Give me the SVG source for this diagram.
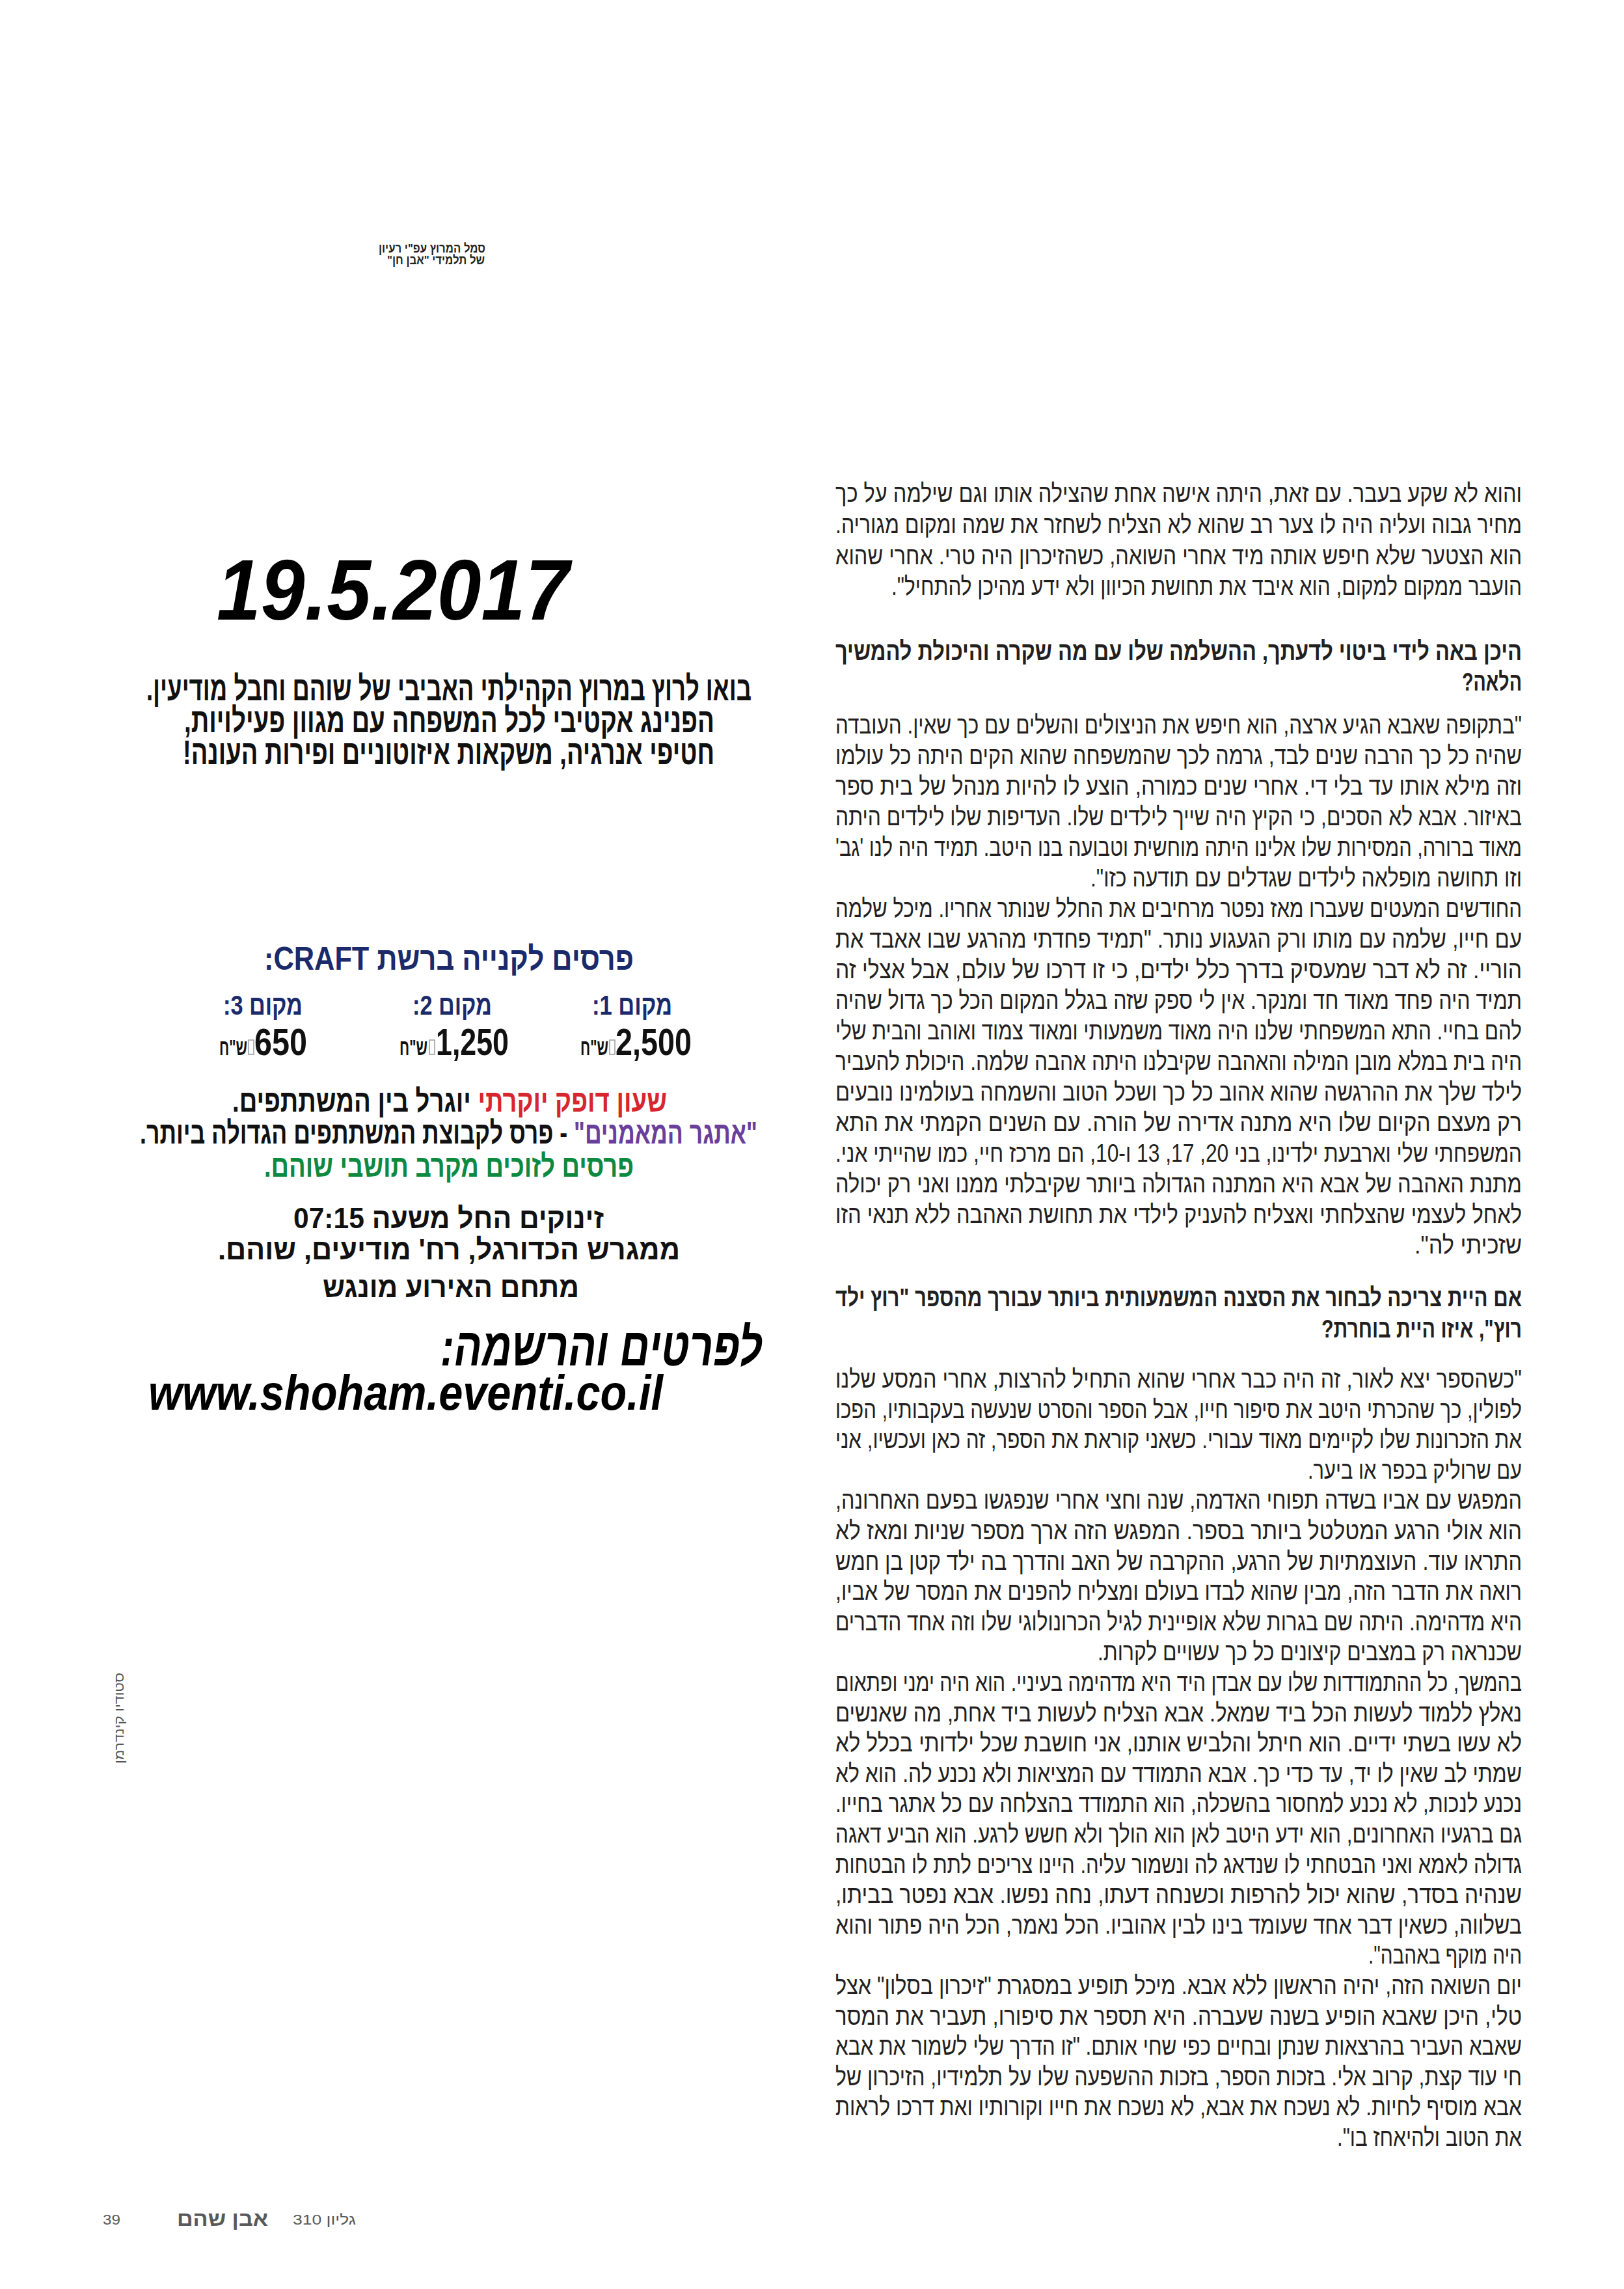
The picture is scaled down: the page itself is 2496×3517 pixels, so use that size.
<svg xmlns="http://www.w3.org/2000/svg" width="2496" height="3517" viewBox="0 0 2496 3517">
<style>
text{font-family:"Liberation Sans","DejaVu Sans",sans-serif;}
.rtl{direction:rtl;text-anchor:middle;}
.b{font-size:39px;fill:#231f20;}
.h{font-size:39px;fill:#231f20;font-weight:bold;}
.ev{font-size:52px;font-weight:bold;fill:#111;}
.navy{fill:#1b2a6b;font-weight:bold;}
.blk{fill:#111;font-weight:bold;}
.tofu{fill:none;stroke:#9a9a9a;stroke-width:1.5;}
.ft{fill:#58595b;}
</style>
<rect width="2496" height="3517" fill="#ffffff"/>

<g id="logo-caption">
<text class="rtl" x="664" y="388" font-size="19" font-weight="bold" fill="#231f20" textLength="164" lengthAdjust="spacingAndGlyphs">סמל המרוץ עפ"י רעיון</text>
<text class="rtl" x="670" y="406" font-size="19" font-weight="bold" fill="#231f20" textLength="150" lengthAdjust="spacingAndGlyphs">של תלמידי "אבן חן"</text>
</g>

<g id="event-date">
<text x="333" y="952" font-size="132" font-weight="bold" font-style="italic" fill="#000" textLength="542" lengthAdjust="spacingAndGlyphs">19.5.2017</text>
</g>

<g id="event-intro">
<text class="rtl ev" x="690" y="1076" textLength="930" lengthAdjust="spacingAndGlyphs">בואו לרוץ במרוץ הקהילתי האביבי של שוהם וחבל מודיעין.</text>
<text class="rtl ev" x="690.5" y="1125" textLength="815" lengthAdjust="spacingAndGlyphs">הפנינג אקטיבי לכל המשפחה עם מגוון פעילויות,</text>
<text class="rtl ev" x="689.5" y="1174" textLength="817" lengthAdjust="spacingAndGlyphs">חטיפי אנרגיה, משקאות איזוטוניים ופירות העונה!</text>
</g>

<g id="prizes">
<text class="rtl navy" x="690" y="1490" font-size="50" textLength="568" lengthAdjust="spacingAndGlyphs">פרסים לקנייה ברשת CRAFT:</text>
<text class="rtl navy" x="971.5" y="1559" font-size="43" textLength="123" lengthAdjust="spacingAndGlyphs">מקום 1:</text>
<text class="rtl navy" x="695" y="1559" font-size="43" textLength="122" lengthAdjust="spacingAndGlyphs">מקום 2:</text>
<text class="rtl navy" x="404" y="1559" font-size="43" textLength="122" lengthAdjust="spacingAndGlyphs">מקום 3:</text>

<text class="blk" x="946" y="1621" font-size="58" textLength="117" lengthAdjust="spacingAndGlyphs">2,500</text>
<rect class="tofu" x="937" y="1598" width="8" height="22"/>
<text class="rtl blk" x="913.5" y="1621" font-size="34" textLength="43" lengthAdjust="spacingAndGlyphs">ש"ח</text>

<text class="blk" x="670" y="1621" font-size="58" textLength="112" lengthAdjust="spacingAndGlyphs">1,250</text>
<rect class="tofu" x="660" y="1598" width="8" height="22"/>
<text class="rtl blk" x="635.5" y="1621" font-size="34" textLength="43" lengthAdjust="spacingAndGlyphs">ש"ח</text>

<text class="blk" x="391" y="1621" font-size="58" textLength="81" lengthAdjust="spacingAndGlyphs">650</text>
<rect class="tofu" x="382" y="1598" width="8" height="22"/>
<text class="rtl blk" x="358.5" y="1621" font-size="34" textLength="43" lengthAdjust="spacingAndGlyphs">ש"ח</text>

<text class="rtl blk" x="691" y="1708" font-size="48" textLength="668" lengthAdjust="spacingAndGlyphs"><tspan fill="#d7262e">שעון דופק יוקרתי</tspan> יוגרל בין המשתתפים.</text>
<text class="rtl blk" x="689.5" y="1757" font-size="48" textLength="949" lengthAdjust="spacingAndGlyphs"><tspan fill="#6a3f9c">"אתגר המאמנים"</tspan> - פרס לקבוצת המשתתפים הגדולה ביותר.</text>
<text class="rtl" x="690" y="1808" font-size="48" font-weight="bold" fill="#0d8a3f" textLength="568" lengthAdjust="spacingAndGlyphs">פרסים לזוכים מקרב תושבי שוהם.</text>
</g>

<g id="start-info">
<text class="rtl blk" x="689.5" y="1887" font-size="44" textLength="477" lengthAdjust="spacingAndGlyphs">זינוקים החל משעה 07:15</text>
<text class="rtl blk" x="690" y="1935" font-size="44" textLength="710" lengthAdjust="spacingAndGlyphs">ממגרש הכדורגל, רח' מודיעים, שוהם.</text>
<text class="rtl blk" x="693" y="1993" font-size="44" textLength="394" lengthAdjust="spacingAndGlyphs">מתחם האירוע מונגש</text>
</g>

<g id="registration">
<text class="rtl" x="924.5" y="2098" font-size="82" font-weight="bold" font-style="italic" fill="#000" textLength="495" lengthAdjust="spacingAndGlyphs">לפרטים והרשמה:</text>
<text x="228" y="2166" font-size="76" font-weight="bold" font-style="italic" fill="#000" textLength="791" lengthAdjust="spacingAndGlyphs">www.shoham.eventi.co.il</text>
</g>

<g id="photo-credit">
<text class="rtl" transform="translate(190,2640) rotate(-90)" x="0" y="0" font-size="20" fill="#555" textLength="140" lengthAdjust="spacingAndGlyphs">סטודיו קינדרמן</text>
</g>

<g id="article">
<text class="rtl b" x="1811.5" y="771" textLength="1055" lengthAdjust="spacingAndGlyphs">והוא לא שקע בעבר. עם זאת, היתה אישה אחת שהצילה אותו וגם שילמה על כך</text>
<text class="rtl b" x="1811.5" y="819" textLength="1055" lengthAdjust="spacingAndGlyphs">מחיר גבוה ועליה היה לו צער רב שהוא לא הצליח לשחזר את שמה ומקום מגוריה.</text>
<text class="rtl b" x="1811.5" y="867" textLength="1055" lengthAdjust="spacingAndGlyphs">הוא הצטער שלא חיפש אותה מיד אחרי השואה, כשהזיכרון היה טרי. אחרי שהוא</text>
<text class="rtl b" x="1854.5" y="914" textLength="969" lengthAdjust="spacingAndGlyphs">הועבר ממקום למקום, הוא איבד את תחושת הכיוון ולא ידע מהיכן להתחיל".</text>

<text class="rtl h" x="1811.5" y="1014" textLength="1055" lengthAdjust="spacingAndGlyphs">היכן באה לידי ביטוי לדעתך, ההשלמה שלו עם מה שקרה והיכולת להמשיך</text>
<text class="rtl h" x="2293" y="1061" textLength="92" lengthAdjust="spacingAndGlyphs">הלאה?</text>

<text class="rtl b" x="1811.5" y="1127" textLength="1055" lengthAdjust="spacingAndGlyphs">"בתקופה שאבא הגיע ארצה, הוא חיפש את הניצולים והשלים עם כך שאין. העובדה</text>
<text class="rtl b" x="1811.5" y="1174" textLength="1055" lengthAdjust="spacingAndGlyphs">שהיה כל כך הרבה שנים לבד, גרמה לכך שהמשפחה שהוא הקים היתה כל עולמו</text>
<text class="rtl b" x="1811.5" y="1221" textLength="1055" lengthAdjust="spacingAndGlyphs">וזה מילא אותו עד בלי די. אחרי שנים כמורה, הוצע לו להיות מנהל של בית ספר</text>
<text class="rtl b" x="1811.5" y="1268" textLength="1055" lengthAdjust="spacingAndGlyphs">באיזור. אבא לא הסכים, כי הקיץ היה שייך לילדים שלו. העדיפות שלו לילדים היתה</text>
<text class="rtl b" x="1811.5" y="1315" textLength="1055" lengthAdjust="spacingAndGlyphs">מאוד ברורה, המסירות שלו אלינו היתה מוחשית וטבועה בנו היטב. תמיד היה לנו 'גב'</text>
<text class="rtl b" x="2007.5" y="1362" textLength="663" lengthAdjust="spacingAndGlyphs">וזו תחושה מופלאה לילדים שגדלים עם תודעה כזו".</text>
<text class="rtl b" x="1811.5" y="1409" textLength="1055" lengthAdjust="spacingAndGlyphs">החודשים המעטים שעברו מאז נפטר מרחיבים את החלל שנותר אחריו. מיכל שלמה</text>
<text class="rtl b" x="1811.5" y="1456" textLength="1055" lengthAdjust="spacingAndGlyphs">עם חייו, שלמה עם מותו ורק הגעגוע נותר. "תמיד פחדתי מהרגע שבו אאבד את</text>
<text class="rtl b" x="1811.5" y="1503" textLength="1055" lengthAdjust="spacingAndGlyphs">הוריי. זה לא דבר שמעסיק בדרך כלל ילדים, כי זו דרכו של עולם, אבל אצלי זה</text>
<text class="rtl b" x="1811.5" y="1550" textLength="1055" lengthAdjust="spacingAndGlyphs">תמיד היה פחד מאוד חד ומנקר. אין לי ספק שזה בגלל המקום הכל כך גדול שהיה</text>
<text class="rtl b" x="1811.5" y="1597" textLength="1055" lengthAdjust="spacingAndGlyphs">להם בחיי. התא המשפחתי שלנו היה מאוד משמעותי ומאוד צמוד ואוהב והבית שלי</text>
<text class="rtl b" x="1811.5" y="1644" textLength="1055" lengthAdjust="spacingAndGlyphs">היה בית במלא מובן המילה והאהבה שקיבלנו היתה אהבה שלמה. היכולת להעביר</text>
<text class="rtl b" x="1811.5" y="1691" textLength="1055" lengthAdjust="spacingAndGlyphs">לילד שלך את ההרגשה שהוא אהוב כל כך ושכל הטוב והשמחה בעולמינו נובעים</text>
<text class="rtl b" x="1811.5" y="1738" textLength="1055" lengthAdjust="spacingAndGlyphs">רק מעצם הקיום שלו היא מתנה אדירה של הורה. עם השנים הקמתי את התא</text>
<text class="rtl b" x="1811.5" y="1785" textLength="1055" lengthAdjust="spacingAndGlyphs">המשפחתי שלי וארבעת ילדינו, בני 20, 17,  13 ו-10, הם מרכז חיי, כמו שהייתי אני.</text>
<text class="rtl b" x="1811.5" y="1832" textLength="1055" lengthAdjust="spacingAndGlyphs">מתנת האהבה של אבא היא המתנה הגדולה ביותר שקיבלתי ממנו ואני רק יכולה</text>
<text class="rtl b" x="1811.5" y="1879" textLength="1055" lengthAdjust="spacingAndGlyphs">לאחל לעצמי שהצלחתי ואצליח להעניק לילדי את תחושת האהבה ללא תנאי הזו</text>
<text class="rtl b" x="2256.5" y="1926" textLength="165" lengthAdjust="spacingAndGlyphs">שזכיתי לה".</text>

<text class="rtl h" x="1811.5" y="2007" textLength="1055" lengthAdjust="spacingAndGlyphs">אם היית צריכה לבחור את הסצנה המשמעותית ביותר עבורך מהספר "רוץ ילד</text>
<text class="rtl h" x="2185" y="2055" textLength="308" lengthAdjust="spacingAndGlyphs">רוץ", איזו היית בוחרת?</text>

<text class="rtl b" x="1811.5" y="2132" textLength="1055" lengthAdjust="spacingAndGlyphs">"כשהספר יצא לאור, זה היה כבר אחרי שהוא התחיל להרצות, אחרי המסע שלנו</text>
<text class="rtl b" x="1811.5" y="2178.6" textLength="1055" lengthAdjust="spacingAndGlyphs">לפולין, כך שהכרתי היטב את סיפור חייו, אבל הספר והסרט שנעשה בעקבותיו, הפכו</text>
<text class="rtl b" x="1811.5" y="2225.2" textLength="1055" lengthAdjust="spacingAndGlyphs">את הזכרונות שלו לקיימים מאוד עבורי. כשאני קוראת את הספר, זה כאן ועכשיו, אני</text>
<text class="rtl b" x="2174.5" y="2271.8" textLength="329" lengthAdjust="spacingAndGlyphs">עם שרוליק בכפר או ביער.</text>
<text class="rtl b" x="1811.5" y="2318.4" textLength="1055" lengthAdjust="spacingAndGlyphs">המפגש עם אביו בשדה תפוחי האדמה, שנה וחצי אחרי שנפגשו בפעם האחרונה,</text>
<text class="rtl b" x="1811.5" y="2365" textLength="1055" lengthAdjust="spacingAndGlyphs">הוא אולי הרגע המטלטל ביותר בספר. המפגש הזה ארך מספר שניות ומאז לא</text>
<text class="rtl b" x="1811.5" y="2411.6" textLength="1055" lengthAdjust="spacingAndGlyphs">התראו עוד. העוצמתיות של הרגע, ההקרבה של האב והדרך בה ילד קטן בן חמש</text>
<text class="rtl b" x="1811.5" y="2458.2" textLength="1055" lengthAdjust="spacingAndGlyphs">רואה את הדבר הזה, מבין שהוא לבדו בעולם ומצליח להפנים את המסר של אביו,</text>
<text class="rtl b" x="1811.5" y="2504.8" textLength="1055" lengthAdjust="spacingAndGlyphs">היא מדהימה. היתה שם בגרות שלא אופיינית לגיל הכרונולוגי שלו וזה אחד הדברים</text>
<text class="rtl b" x="2013" y="2551.4" textLength="652" lengthAdjust="spacingAndGlyphs">שכנראה רק במצבים קיצונים כל כך עשויים לקרות.</text>
<text class="rtl b" x="1811.5" y="2598" textLength="1055" lengthAdjust="spacingAndGlyphs">בהמשך, כל ההתמודדות שלו עם אבדן היד היא מדהימה בעיניי. הוא היה ימני ופתאום</text>
<text class="rtl b" x="1811.5" y="2644.6" textLength="1055" lengthAdjust="spacingAndGlyphs">נאלץ ללמוד לעשות הכל ביד שמאל. אבא הצליח לעשות ביד אחת, מה שאנשים</text>
<text class="rtl b" x="1811.5" y="2691.2" textLength="1055" lengthAdjust="spacingAndGlyphs">לא עשו בשתי ידיים. הוא חיתל והלביש אותנו, אני חושבת שכל ילדותי בכלל לא</text>
<text class="rtl b" x="1811.5" y="2737.8" textLength="1055" lengthAdjust="spacingAndGlyphs">שמתי לב שאין לו יד, עד כדי כך. אבא התמודד עם המציאות ולא נכנע לה. הוא לא</text>
<text class="rtl b" x="1811.5" y="2784.4" textLength="1055" lengthAdjust="spacingAndGlyphs">נכנע לנכות, לא נכנע למחסור בהשכלה, הוא התמודד בהצלחה עם כל אתגר בחייו.</text>
<text class="rtl b" x="1811.5" y="2831" textLength="1055" lengthAdjust="spacingAndGlyphs">גם ברגעיו האחרונים, הוא ידע היטב לאן הוא הולך ולא חשש לרגע. הוא הביע דאגה</text>
<text class="rtl b" x="1811.5" y="2877.6" textLength="1055" lengthAdjust="spacingAndGlyphs">גדולה לאמא ואני הבטחתי לו שנדאג לה ונשמור עליה. היינו צריכים לתת לו הבטחות</text>
<text class="rtl b" x="1811.5" y="2924.2" textLength="1055" lengthAdjust="spacingAndGlyphs">שנהיה בסדר, שהוא יכול להרפות וכשנחה דעתו, נחה נפשו. אבא נפטר בביתו,</text>
<text class="rtl b" x="1811.5" y="2970.8" textLength="1055" lengthAdjust="spacingAndGlyphs">בשלווה, כשאין דבר אחד שעומד בינו לבין אהוביו. הכל נאמר, הכל היה פתור והוא</text>
<text class="rtl b" x="2221" y="3017.4" textLength="236" lengthAdjust="spacingAndGlyphs">היה מוקף באהבה".</text>
<text class="rtl b" x="1811.5" y="3064" textLength="1055" lengthAdjust="spacingAndGlyphs">יום השואה הזה, יהיה הראשון ללא אבא. מיכל תופיע במסגרת "זיכרון בסלון" אצל</text>
<text class="rtl b" x="1811.5" y="3110.6" textLength="1055" lengthAdjust="spacingAndGlyphs">טלי, היכן שאבא הופיע בשנה שעברה. היא תספר את סיפורו, תעביר את המסר</text>
<text class="rtl b" x="1811.5" y="3157.2" textLength="1055" lengthAdjust="spacingAndGlyphs">שאבא העביר בהרצאות שנתן ובחיים כפי שחי אותם.  "זו הדרך שלי לשמור את אבא</text>
<text class="rtl b" x="1811.5" y="3203.8" textLength="1055" lengthAdjust="spacingAndGlyphs">חי עוד קצת, קרוב אלי. בזכות הספר, בזכות ההשפעה שלו על תלמידיו, הזיכרון של</text>
<text class="rtl b" x="1811.5" y="3250.4" textLength="1055" lengthAdjust="spacingAndGlyphs">אבא מוסיף לחיות. לא נשכח את אבא, לא נשכח את חייו וקורותיו ואת דרכו לראות</text>
<text class="rtl b" x="2197" y="3297" textLength="284" lengthAdjust="spacingAndGlyphs">את הטוב ולהיאחז בו".</text>
</g>

<g id="footer">
<text class="ft" x="158" y="3418" font-size="22" textLength="27" lengthAdjust="spacingAndGlyphs">39</text>
<text class="rtl ft" x="342" y="3420" font-size="32" font-weight="bold" textLength="140" lengthAdjust="spacingAndGlyphs">אבן שהם</text>
<text class="rtl ft" x="498.5" y="3418" font-size="22" textLength="97" lengthAdjust="spacingAndGlyphs">גליון 310</text>
</g>
</svg>
